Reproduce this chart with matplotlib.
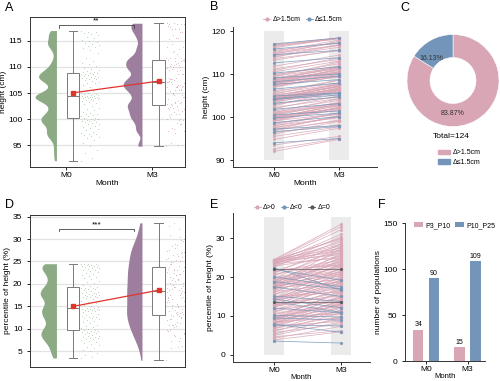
import numpy as np
import matplotlib
matplotlib.use('Agg')
import matplotlib.pyplot as plt
from matplotlib.lines import Line2D
from matplotlib.patches import Patch

plt.rcParams['font.family'] = ['Liberation Sans', 'DejaVu Sans']
plt.rcParams['font.size'] = 6
plt.rcParams['axes.edgecolor'] = '#333333'
plt.rcParams['axes.linewidth'] = 0.7
plt.rcParams['xtick.major.size'] = 2
plt.rcParams['ytick.major.size'] = 2
plt.rcParams['xtick.major.width'] = 0.6
plt.rcParams['ytick.major.width'] = 0.6
plt.rcParams['xtick.major.pad'] = 1.5

MONTHS = ['M0', 'M3']

# height (cm), one entry per child, same order in both months
height_m0 = [92.0, 92.6, 93.5, 94.0, 94.8, 95.5, 96.0, 96.4, 96.6, 96.8,
             97.0, 97.1, 97.2, 97.4, 97.6, 97.9, 98.0, 98.3, 98.5, 98.7,
             99.0, 99.1, 99.3, 99.4, 99.5, 99.6, 99.7, 99.8, 99.9, 100.0,
             100.0, 100.2, 100.3, 100.5, 100.6, 100.7, 100.9, 101.0, 101.1, 101.4,
             101.8, 102.0, 102.2, 102.6, 102.9, 103.0, 103.2, 103.4, 103.6, 103.7,
             103.8, 103.9, 104.0, 104.0, 104.1, 104.1, 104.2, 104.2, 104.3, 104.3,
             104.4, 104.4, 104.5, 104.6, 104.7, 104.8, 104.9, 105.0, 105.1, 105.3,
             105.5, 105.8, 106.1, 106.5, 106.9, 107.0, 107.2, 107.4, 107.5, 107.6,
             107.7, 107.8, 107.8, 107.9, 108.0, 108.1, 108.2, 108.3, 108.4, 108.5,
             108.6, 108.7, 108.8, 108.9, 109.0, 109.1, 109.3, 109.5, 109.7, 109.9,
             110.2, 110.5, 110.8, 111.2, 111.8, 112.6, 113.2, 113.6, 113.9, 114.1,
             114.3, 114.5, 114.6, 114.8, 115.0, 115.2, 115.5, 115.8, 116.1, 116.4,
             116.5, 116.7, 116.8, 117.0]
height_m3 = [94.8, 95.0, 95.5, 95.0, 97.4, 97.7, 99.0, 98.2, 97.8, 99.3,
             100.4, 99.1, 98.0, 100.1, 99.9, 101.0, 99.9, 100.9, 100.7, 100.1,
             102.2, 100.8, 101.8, 102.3, 101.6, 103.1, 102.1, 100.9, 102.7, 102.0,
             102.6, 102.0, 103.3, 101.4, 102.9, 103.4, 102.8, 104.3, 103.3, 103.9,
             103.1, 104.9, 104.3, 106.2, 105.3, 104.7, 104.7, 106.2, 105.6, 106.8,
             106.3, 106.1, 107.4, 105.8, 105.1, 106.7, 106.5, 107.2, 106.2, 105.5,
             107.1, 106.5, 107.7, 107.0, 106.4, 107.7, 105.6, 107.5, 107.1, 108.6,
             107.7, 108.6, 107.9, 107.9, 109.5, 110.0, 109.5, 109.3, 110.2, 108.7,
             111.1, 109.9, 110.3, 109.6, 111.1, 110.5, 109.5, 111.1, 110.4, 111.7,
             110.8, 110.5, 111.4, 111.8, 111.3, 110.0, 112.8, 111.5, 112.4, 111.8,
             111.7, 113.0, 113.8, 113.4, 114.4, 113.8, 115.6, 115.4, 116.7, 116.2,
             116.8, 115.5, 117.6, 116.7, 117.3, 117.9, 117.2, 117.2, 118.3, 118.2,
             118.3, 118.3, 118.4, 118.4]

# percentile of height (%)
pct_m0 = [3.5, 3.8, 4.2, 4.6, 5.0, 5.3, 5.7, 6.0, 6.3, 6.6,
          6.9, 7.1, 7.3, 7.5, 7.7, 7.8, 7.9, 8.0, 8.1, 8.2,
          8.4, 8.5, 8.7, 8.8, 9.0, 9.1, 9.2, 9.3, 9.4, 9.5,
          9.6, 9.7, 9.8, 9.9, 10.1, 10.3, 10.6, 10.9, 11.2, 11.5,
          11.8, 12.0, 12.2, 12.4, 12.5, 12.6, 12.7, 12.8, 12.9, 13.1,
          13.3, 13.5, 13.7, 13.9, 14.0, 14.1, 14.2, 14.3, 14.4, 14.5,
          14.5, 14.6, 14.7, 14.9, 15.1, 15.4, 15.7, 16.0, 16.3, 16.6,
          16.8, 17.0, 17.1, 17.2, 17.3, 17.4, 17.5, 17.5, 17.6, 17.7,
          17.8, 17.9, 18.0, 18.1, 18.3, 18.5, 18.7, 18.8, 18.9, 19.0,
          19.1, 19.2, 19.3, 19.5, 19.8, 20.1, 20.4, 20.7, 21.0, 21.3,
          21.5, 21.8, 22.0, 22.2, 22.4, 22.6, 22.8, 23.0, 23.2, 23.4,
          23.5, 23.6, 23.7, 23.8, 23.9, 24.0, 24.1, 24.2, 24.3, 24.3,
          24.4, 24.4, 24.5, 24.5]
pct_m3 = [3.0, 5.9, 7.3, 6.2, 8.4, 9.6, 7.9, 10.8, 9.1, 11.5,
          9.8, 12.4, 8.6, 11.9, 7.4, 5.8, 13.2, 10.6, 14.0, 11.3,
          12.8, 9.4, 15.1, 12.2, 13.8, 11.0, 16.4, 12.9, 14.6, 8.9,
          13.4, 15.9, 12.6, 10.5, 9.7, 14.9, 13.0, 17.2, 14.1, 16.8,
          13.6, 10.8, 18.1, 15.5, 17.6, 14.4, 19.3, 16.0, 18.6, 15.2,
          20.1, 13.5, 10.9, 17.9, 19.8, 16.5, 21.0, 12.1, 18.4, 20.6,
          17.1, 22.3, 18.9, 16.2, 13.7, 21.6, 19.0, 23.4, 18.2, 20.9,
          24.5, 19.6, 22.0, 18.7, 25.1, 21.3, 15.0, 23.0, 20.3, 26.0,
          19.4, 22.6, 24.1, 20.8, 27.2, 21.9, 23.7, 16.9, 22.5, 25.6,
          21.2, 24.8, 22.9, 27.9, 23.3, 17.5, 26.4, 23.8, 28.6, 24.4,
          26.9, 23.1, 19.2, 22.2, 16.7, 29.5, 25.3, 27.6, 30.4, 24.9,
          28.1, 26.2, 31.0, 27.0, 29.0, 25.8, 32.2, 28.4, 30.0, 26.6,
          33.0, 29.8, 33.6, 27.4]

F_GROUPS = ['P3_P10', 'P10_P25']
f_p3_p10 = [34, 15]
f_p10_p25 = [90, 109]

PINK = '#d9a6b6'
BLUE = '#7395b9'
GREEN = '#8cab85'
PURPLE = '#9d7e9f'
RED = '#e0342c'
BAND = '#ebebeb'
BOXC = '#7a7a7a'


def kde(vals, bw, n=300):
    vals = np.asarray(vals)
    grid = np.linspace(vals.min(), vals.max(), n)
    d = np.exp(-0.5 * ((grid[:, None] - vals[None, :]) / bw) ** 2).sum(1)
    return grid, d / d.max()


def raincloud(ax, data, bws, dot_colors, vwidths):
    for i, (vals, bw, vc, dc, vw) in enumerate(zip(data, bws, [GREEN, PURPLE], dot_colors, vwidths)):
        grid, dens = kde(vals, bw)
        edge = i - 0.115
        ax.fill_betweenx(grid, edge - vw * dens, edge, color=vc, lw=0, zorder=2)
        xs = i + 0.17 + 0.22 * ((np.arange(len(vals)) * 0.618034) % 1)
        ax.scatter(xs, vals, s=0.6, color=dc, lw=0, alpha=0.7, zorder=2)
    pos = [0.079, 1.079]
    ax.boxplot(data, positions=pos, widths=0.15, whis=(0, 100), showfliers=False,
               patch_artist=True, capwidths=0.1,
               boxprops=dict(facecolor='white', edgecolor=BOXC, lw=0.7),
               whiskerprops=dict(color=BOXC, lw=0.7),
               capprops=dict(color=BOXC, lw=0.7),
               medianprops=dict(color=BOXC, lw=0.7), zorder=3)
    means = [np.mean(v) for v in data]
    ax.plot(pos, means, color=RED, lw=0.9, marker='s', ms=2.6, zorder=4)
    ax.yaxis.grid(True, color='#e2e2e2', lw=0.9)
    ax.set_axisbelow(True)
    ax.set_xlim(-0.424, 1.388)


def bracket(ax, y, d, stars):
    ax.plot([-0.082, -0.082, 0.788, 0.788], [y - d, y, y, y - d], color='#444444', lw=0.6)
    ax.text(0.353, y, stars, ha='center', va='bottom', fontsize=6)


def paired(ax, m0, m3, groups, band_lo, band_hi):
    ax.bar([0, 1], [band_hi - band_lo] * 2, bottom=band_lo, width=0.3, color=BAND, zorder=0)
    for mask, c in groups:
        a = np.asarray(m0)[mask]
        b = np.asarray(m3)[mask]
        ax.plot([0, 1], np.vstack([a, b]), color=c, lw=0.55, alpha=0.85,
                marker='o', ms=1.3, zorder=2)
    for s in ['top', 'right']:
        ax.spines[s].set_visible(False)
    ax.set_xticks([0, 1])
    ax.set_xticklabels(MONTHS)


fig = plt.figure(figsize=(5, 3.81), dpi=100)

# ---- A
axA = fig.add_axes([30 / 500, 1 - 167 / 381, 155 / 500, 150 / 381])
raincloud(axA, [height_m0, height_m3], [0.75, 0.75], ['#8fc08f', '#c99bb8'], [0.25, 0.22])
axA.set_ylim(90.8, 119.6)
axA.set_yticks([95, 100, 105, 110, 115])
axA.set_xticks([0, 1])
axA.set_xticklabels(MONTHS)
axA.set_xlabel('Month', fontsize=6, labelpad=1)
axA.set_ylabel('height (cm)', fontsize=6, labelpad=1)
bracket(axA, 118.1, 0.6, '**')

# ---- D
axD = fig.add_axes([30 / 500, 1 - 366.7 / 381, 155 / 500, 151.7 / 381])
raincloud(axD, [pct_m0, pct_m3], [1.1, 1.8], ['#8fc08f', '#c99bb8'], [0.19, 0.18])
axD.set_ylim(1.57, 35.35)
axD.set_yticks([5, 10, 15, 20, 25, 30, 35])
axD.set_xticks([])
axD.set_ylabel('percentile of height (%)', fontsize=6, labelpad=1)
bracket(axD, 32.3, 0.6, '***')

# ---- B
d_h = np.round(np.array(height_m3) - np.array(height_m0), 1)
big = d_h > 1.5
axB = fig.add_axes([233 / 500, 1 - 166.7 / 381, 144 / 500, 140 / 381])
paired(axB, height_m0, height_m3, [(big, PINK), (~big, BLUE)], 90, 120)
axB.set_xlabel('Month', fontsize=6, labelpad=1)
axB.set_xlim(-0.63, 1.585)
axB.set_ylim(88.45, 121.0)
axB.set_yticks([90, 100, 110, 120])
axB.set_ylabel('height (cm)', fontsize=6, labelpad=1)
hB = [Line2D([], [], color=c, lw=0.6, marker='o', ms=2) for c in [PINK, BLUE]]
axB.legend(hB, ['Δ>1.5cm', 'Δ≤1.5cm'], loc='lower center', bbox_to_anchor=(0.486, 1.0),
           ncol=2, frameon=False, fontsize=5, handlelength=1.0, handletextpad=0.3,
           columnspacing=0.8, borderpad=0)

# ---- E
d_p = np.round(np.array(pct_m3) - np.array(pct_m0), 1)
axE = fig.add_axes([233 / 500, 1 - 362.3 / 381, 137 / 500, 149.3 / 381])
paired(axE, pct_m0, pct_m3, [(d_p > 0, PINK), (d_p < 0, BLUE), (d_p == 0, '#555555')], 0, 35.5)
axE.set_xlabel('Month', fontsize=5.5, labelpad=0)
axE.set_xlim(-0.612, 1.433)
axE.set_ylim(-1.96, 36.5)
axE.set_yticks([0, 10, 20, 30])
axE.set_ylabel('percentile of height (%)', fontsize=6, labelpad=1)
hE = [Line2D([], [], color=c, lw=0.6, marker='o', ms=2) for c in [PINK, BLUE, '#555555']]
axE.legend(hE, ['Δ>0', 'Δ<0', 'Δ=0'], loc='lower center', bbox_to_anchor=(0.43, 0.99),
           ncol=3, frameon=False, fontsize=5, handlelength=1.0, handletextpad=0.3,
           columnspacing=0.8, borderpad=0)

# ---- C
n_big = int(big.sum())
n_small = len(big) - n_big
axC = fig.add_axes([(453 - 50) / 500, 1 - (80.5 + 50) / 381, 100 / 500, 100 / 381])
wedges, texts, autos = axC.pie([n_big, n_small], colors=[PINK, BLUE], startangle=90,
                               counterclock=False, radius=1,
                               wedgeprops=dict(width=0.5, edgecolor='white', linewidth=0.4),
                               autopct='%.2f%%', pctdistance=0.72,
                               textprops=dict(fontsize=5, color='#333333'))
autos[0].set_position((0, -0.71))
autos[1].set_position((-0.46, 0.47))
axC.set_xlim(-1.087, 1.087)
axC.set_ylim(-1.087, 1.087)
fig.text(451.7 / 500, 1 - 136.7 / 381, f'Total={len(big)}', ha='center', va='center', fontsize=6)
fig.legend([Patch(color=PINK), Patch(color=BLUE)], ['Δ>1.5cm', 'Δ≤1.5cm'],
           loc='upper left', bbox_to_anchor=(435 / 500, 1 - 146 / 381), frameon=False,
           fontsize=5, handlelength=1.6, handleheight=0.7, labelspacing=0.35,
           borderpad=0, handletextpad=0.4)

# ---- F
axF = fig.add_axes([405 / 500, 1 - 361 / 381, 80 / 500, 137.7 / 381])
x = np.arange(len(MONTHS))
b1 = axF.bar(x - 0.19, f_p3_p10, 0.25, color=PINK, label=F_GROUPS[0])
b2 = axF.bar(x + 0.19, f_p10_p25, 0.25, color=BLUE, label=F_GROUPS[1])
axF.bar_label(b1, fontsize=5, padding=1)
axF.bar_label(b2, fontsize=5, padding=1)
axF.set_xlim(-0.506, 1.42)
axF.set_ylim(0, 150)
axF.set_yticks([0, 50, 100, 150])
axF.set_xticks(x)
axF.set_xticklabels(MONTHS)
axF.set_xlabel('Month', fontsize=5.5, labelpad=0)
axF.set_ylabel('number of populations', fontsize=6, labelpad=1)
for s in ['top', 'right']:
    axF.spines[s].set_visible(False)
axF.legend(loc='center', bbox_to_anchor=(0.62, 0.985), ncol=2, frameon=False, fontsize=5,
           handlelength=1.4, handleheight=0.6, handletextpad=0.3, columnspacing=0.6,
           borderpad=0)

for lab, (px, py) in zip('ABCDEF', [(5, 8), (210, 7), (400, 8), (5, 205), (210, 205), (378, 205)]):
    fig.text(px / 500, 1 - py / 381, lab, fontsize=9, ha='left', va='center')

fig.savefig('out.png', dpi=100)
